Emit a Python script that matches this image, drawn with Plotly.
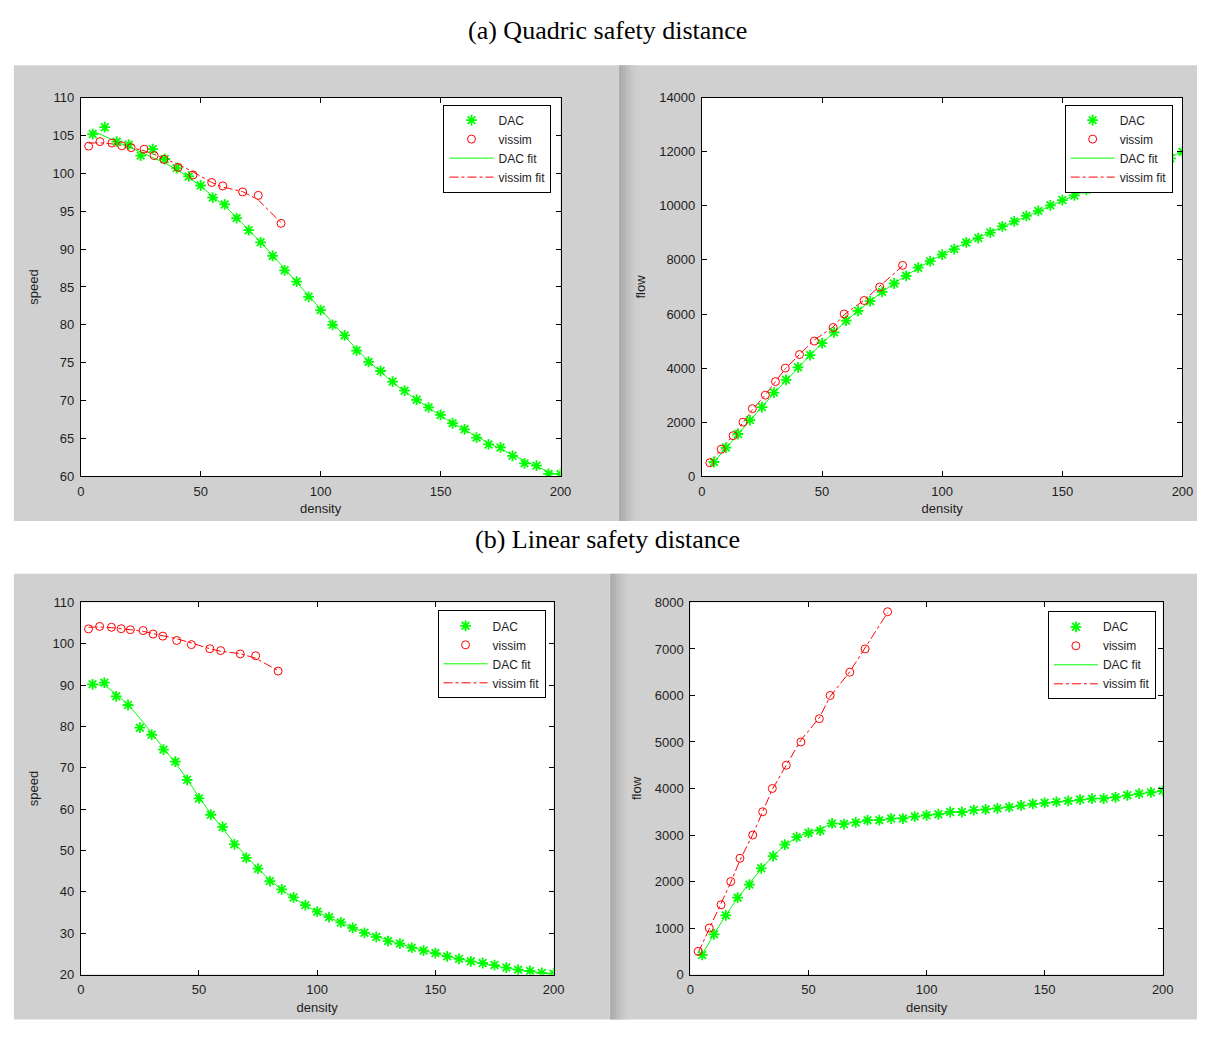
import plotly.graph_objects as go

W, H = 1208, 1057

# ---------------- data ----------------
dac_density = [5, 10, 15, 20, 25, 30, 35, 40, 45, 50, 55, 60, 65, 70, 75, 80, 85, 90, 95, 100,
               105, 110, 115, 120, 125, 130, 135, 140, 145, 150, 155, 160, 165, 170, 175, 180, 185, 190, 195, 200]

# (a) quadric safety distance
a_dac_speed = [105.2, 106.1, 104.2, 103.8, 102.35, 103.2, 101.9, 100.7, 99.6, 98.4, 96.8, 95.9, 94.1, 92.5,
               90.9, 89.1, 87.2, 85.7, 83.7, 81.95, 80.0, 78.6, 76.6, 75.1, 73.9, 72.5, 71.3, 70.1, 69.1, 68.1,
               67.0, 66.2, 65.1, 64.2, 63.8, 62.7, 61.7, 61.4, 60.3, 60.3]
a_dac_speed_fit = [105.6, 104.9, 104.3, 103.6, 102.9, 102.2, 101.4, 100.5, 99.5, 98.3, 97.0, 95.7, 94.2, 92.6,
                   90.9, 89.2, 87.4, 85.6, 83.8, 82.0, 80.2, 78.5, 76.8, 75.2, 73.8, 72.4, 71.2, 70.1, 69.0, 68.0,
                   67.0, 66.1, 65.2, 64.4, 63.6, 62.8, 62.0, 61.3, 60.6, 60.1]
a_dac_flow = [526, 1061, 1563, 2076, 2559, 3096, 3567, 4028, 4482, 4920, 5324, 5754, 6117, 6475, 6818, 7128,
              7412, 7713, 7952, 8195, 8400, 8646, 8809, 9012, 9238, 9425, 9626, 9814, 10020, 10215, 10385,
              10592, 10742, 10914, 11165, 11286, 11415, 11666, 11759, 12000]
a_dac_flow_fit = [528, 1050, 1565, 2072, 2572, 3066, 3549, 4020, 4478, 4915, 5335, 5742, 6123, 6482, 6818, 7136,
                  7429, 7704, 7961, 8200, 8421, 8635, 8832, 9024, 9225, 9412, 9612, 9814, 10005, 10200, 10385,
                  10576, 10758, 10948, 11130, 11304, 11470, 11647, 11820, 12000]

# (b) linear safety distance
b_dac_speed = [90.2, 90.6, 87.3, 85.2, 79.7, 78.0, 74.4, 71.5, 67.1, 62.6, 58.65, 55.7, 51.5, 48.2, 45.6, 42.6,
               40.6, 38.65, 36.8, 35.2, 33.9, 32.6, 31.3, 30.1, 29.1, 28.1, 27.5, 26.5, 25.8, 25.2, 24.4, 23.8,
               23.2, 22.8, 22.3, 21.7, 21.2, 20.9, 20.4, 20.2]
b_dac_speed_fit = [90.2, 90.0, 87.8, 85.3, 82.0, 78.4, 74.7, 71.2, 67.3, 62.9, 58.9, 55.4, 51.8, 48.6, 45.6, 42.9,
                   40.5, 38.5, 36.7, 35.1, 33.8, 32.5, 31.3, 30.2, 29.2, 28.3, 27.4, 26.6, 25.8, 25.1, 24.4, 23.8,
                   23.2, 22.6, 22.1, 21.6, 21.1, 20.7, 20.4, 20.1]
b_dac_flow = [422, 865, 1273, 1653, 1934, 2285, 2546, 2792, 2954, 3045, 3094, 3249, 3235, 3270, 3319, 3319,
              3354, 3354, 3397, 3425, 3446, 3495, 3495, 3537, 3551, 3572, 3600, 3636, 3671, 3692, 3713, 3734,
              3762, 3783, 3783, 3811, 3854, 3889, 3917, 3950]
b_dac_flow_fit = [430, 870, 1275, 1650, 1960, 2270, 2550, 2780, 2950, 3060, 3140, 3240, 3250, 3280, 3310, 3330,
                  3350, 3370, 3395, 3420, 3445, 3475, 3500, 3530, 3555, 3578, 3600, 3632, 3665, 3690, 3712, 3735,
                  3760, 3780, 3795, 3815, 3850, 3885, 3915, 3945]

# vissim (same in both cases)
vis_density = [3.3, 8.0, 13.0, 17.1, 21.0, 26.4, 30.6, 34.7, 40.6, 46.8, 54.6, 59.2, 67.5, 74.0, 83.5]
vis_speed = [103.6, 104.2, 104.0, 103.65, 103.4, 103.2, 102.35, 101.85, 100.8, 99.8, 98.8, 98.35, 97.55, 97.1, 93.4]
vis_speed_fit = [104.0, 104.05, 103.9, 103.7, 103.4, 103.0, 102.5, 102.0, 101.2, 100.2, 98.8, 98.2, 97.6, 96.5, 93.5]
vis_flow = [500, 1000, 1500, 2000, 2500, 3000, 3500, 4000, 4500, 5000, 5500, 6000, 6500, 7000, 7800]
vis_flow_fit = [470, 1000, 1530, 1980, 2460, 3010, 3500, 3980, 4500, 5040, 5520, 5980, 6510, 7030, 7780]

legend_names = ["DAC", "vissim", "DAC fit", "vissim fit"]

# ---------------- layout geometry (reference pixels) ----------------
GREEN = "#00ff00"
RED = "#ff0000"
FONT = "Liberation Sans"

axes_px = {  # x0, x1, ytop, ybottom
    1: (77.7, 563.5, 92, 476),
    2: (706.7, 1193.3, 92, 476),
    3: (77.7, 556.5, 604, 981.5),
    4: (695.0, 1173.3, 604, 981.5),
}

def px2x(p):
    return p / W

def px2y(p):
    return 1 - p / H

fig = go.Figure()

panels = [
    (1, a_dac_speed, a_dac_speed_fit, vis_speed, vis_speed_fit, "legend"),
    (2, a_dac_flow, a_dac_flow_fit, vis_flow, vis_flow_fit, "legend2"),
    (3, b_dac_speed, b_dac_speed_fit, vis_speed, vis_speed_fit, "legend3"),
    (4, b_dac_flow, b_dac_flow_fit, vis_flow, vis_flow_fit, "legend4"),
]

for idx, dy, dfit, vy, vfit, leg in panels:
    xa = "x" if idx == 1 else f"x{idx}"
    ya = "y" if idx == 1 else f"y{idx}"
    fig.add_trace(go.Scatter(x=dac_density, y=dfit, mode="lines", line=dict(color=GREEN, width=1),
                             xaxis=xa, yaxis=ya, showlegend=False, legend=leg, hoverinfo="skip"))
    fig.add_trace(go.Scatter(x=vis_density, y=vfit, mode="lines", line=dict(color=RED, width=1, dash="dashdot"),
                             xaxis=xa, yaxis=ya, showlegend=False, legend=leg, hoverinfo="skip"))
    fig.add_trace(go.Scatter(x=dac_density, y=dy, mode="markers", name=legend_names[0],
                             marker=dict(symbol="asterisk-open", size=9, color=GREEN, line=dict(color=GREEN, width=1.8)),
                             xaxis=xa, yaxis=ya, legend=leg))
    fig.add_trace(go.Scatter(x=vis_density, y=vy, mode="markers", name=legend_names[1],
                             marker=dict(symbol="circle-open", size=8, color=RED, line=dict(color=RED, width=1)),
                             xaxis=xa, yaxis=ya, legend=leg))
    fig.add_trace(go.Scatter(x=[None], y=[None], mode="lines", name=legend_names[2],
                             line=dict(color=GREEN, width=1), xaxis=xa, yaxis=ya, legend=leg))
    fig.add_trace(go.Scatter(x=[None], y=[None], mode="lines", name=legend_names[3],
                             line=dict(color=RED, width=1, dash="dashdot"), xaxis=xa, yaxis=ya, legend=leg))

tickfont = dict(family=FONT, size=13, color="#1e1e1e")
titlefont = dict(family=FONT, size=13, color="#1e1e1e")

def axis_common():
    return dict(showline=True, linecolor="#000000", linewidth=1, mirror="ticks", ticks="inside",
                ticklen=5, tickcolor="#000000", showgrid=False, zeroline=False, tickfont=tickfont,
                ticklabelstandoff=3, tickformat="d")

y_specs = {
    1: (60, 110, 5, "speed"),
    2: (0, 14000, 2000, "flow"),
    3: (20, 110, 10, "speed"),
    4: (0, 8000, 1000, "flow"),
}

layout_axes = {}
for idx, (x0, x1, yt, yb) in axes_px.items():
    xk = "xaxis" if idx == 1 else f"xaxis{idx}"
    yk = "yaxis" if idx == 1 else f"yaxis{idx}"
    ya_name = "y" if idx == 1 else f"y{idx}"
    xa_name = "x" if idx == 1 else f"x{idx}"
    lo, hi, dt, ttl = y_specs[idx]
    xa = axis_common()
    xa.update(domain=[px2x(x0), px2x(x1)], range=[0, 200], tick0=0, dtick=50, anchor=ya_name,
              title=dict(text="density", font=titlefont, standoff=6))
    ya = axis_common()
    ya.update(domain=[px2y(yb), px2y(yt)], range=[lo, hi], tick0=lo, dtick=dt, anchor=xa_name,
              title=dict(text=ttl, font=titlefont, standoff=10))
    layout_axes[xk] = xa
    layout_axes[yk] = ya

def legend_cfg(px_x, px_y):
    return dict(x=px2x(px_x), y=px2y(px_y), xanchor="left", yanchor="top", bgcolor="white",
                bordercolor="#000000", borderwidth=1, font=dict(family=FONT, size=12, color="#1e1e1e"),
                tracegroupgap=0, itemwidth=44)

GRAY = "#d0d0d0"
shapes = []
def rect(x0, y0, x1, y1, color):
    shapes.append(dict(type="rect", xref="paper", yref="paper", x0=px2x(x0), x1=px2x(x1),
                       y0=px2y(y1), y1=px2y(y0), fillcolor=color, line=dict(width=0), layer="below"))

# gray figure panels
rect(10, 59, 623, 521.5, GRAY)
rect(623, 59, W, 521.5, GRAY)
rect(10, 575, 614, 1027, GRAY)
rect(614, 575, W, 1027, GRAY)
# window separators (gradient strips)
grad = ["#a6a6a6", "#acacac", "#b2b2b2", "#b8b8b8", "#bebebe", "#c3c3c3", "#c7c7c7", "#cbcbcb", "#cecece"]
for i, c in enumerate(grad):
    rect(623 + i * 2, 59, 623 + i * 2 + 2, 521.5, c)
    rect(614 + i * 2, 575, 614 + i * 2 + 2, 1027, c)
# white axes backgrounds
for idx, (x0, x1, yt, yb) in axes_px.items():
    rect(x0, yt, x1, yb, "#ffffff")

annotations = [
    dict(text="(a) Quadric safety distance", x=px2x(611), y=px2y(24), xref="paper", yref="paper",
         showarrow=False, font=dict(family="Liberation Serif", size=26, color="#000000"),
         xanchor="center", yanchor="middle"),
    dict(text="(b) Linear safety distance", x=px2x(611), y=px2y(540), xref="paper", yref="paper",
         showarrow=False, font=dict(family="Liberation Serif", size=26, color="#000000"),
         xanchor="center", yanchor="middle"),
]

fig.update_layout(
    width=W, height=H, margin=dict(l=0, r=0, t=0, b=0),
    paper_bgcolor="white", plot_bgcolor="rgba(0,0,0,0)",
    shapes=shapes, annotations=annotations,
    legend=legend_cfg(445, 99),
    legend2=legend_cfg(1074, 99),
    legend3=legend_cfg(439, 612),
    legend4=legend_cfg(1057, 613),
    **layout_axes,
)

# pin the figure to the window's top-left corner so the page never overflows
page_fix = (
    "document.documentElement.style.cssText='margin:0;padding:0;overflow:hidden;width:1208px;height:1057px;';"
    "document.body.style.cssText='margin:0;padding:0;overflow:hidden;width:1208px;height:1057px;';"
    "var gd=document.getElementById('{plot_id}');"
    "gd.style.position='fixed';gd.style.left='0px';gd.style.top='0px';gd.style.margin='0';"
    "if(gd.parentElement){gd.parentElement.style.margin='0';}"
)

fig.write_html("out.html", post_script=page_fix)
